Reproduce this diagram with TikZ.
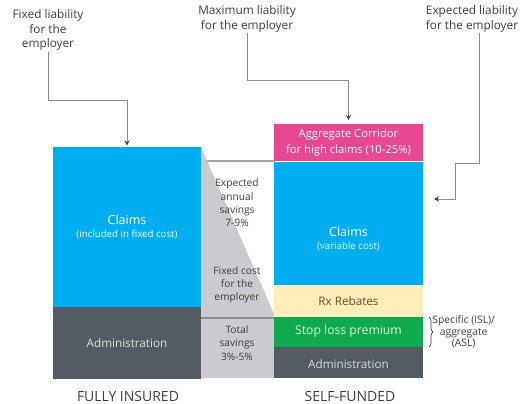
\documentclass[tikz,border=0pt]{standalone}
\usepackage{fontspec}
\setmainfont{Open Sans}
\usetikzlibrary{arrows.meta}
\usetikzlibrary{decorations.pathreplacing}
\usetikzlibrary{patterns}
\definecolor{claimblue}{RGB}{0,173,239}
\definecolor{corridorpink}{RGB}{232,71,146}
\definecolor{adminslate}{RGB}{84,91,99}
\definecolor{stopgreen}{RGB}{16,170,78}
\definecolor{rebateyellow}{RGB}{252,238,184}
\definecolor{savinggray}{RGB}{201,203,206}
\definecolor{linegray}{RGB}{140,140,140}
\definecolor{labeltext}{RGB}{62,62,62}

\tikzset{
  box/.style={inner sep=0pt, outer sep=0pt},
  boxtxt/.style={inner sep=0pt, text=white, font=\fontsize{11.7}{14}\selectfont},
  subtxt/.style={inner sep=0pt, text=white, font=\fontsize{9.7}{12}\selectfont},
  toptxt/.style={inner sep=1pt, align=center, text=labeltext, font=\fontsize{11.8}{14.5}\selectfont},
  midtxt/.style={inner sep=0pt, align=center, text=labeltext, font=\fontsize{10.2}{13.3}\selectfont},
  conn/.style={draw=linegray, line width=0.9pt, -{Stealth[length=5pt,width=5pt,color=black!75]}},
}

\begin{document}
\begin{tikzpicture}[x=1pt, y=-1pt]
\useasboundingbox (0,0) rectangle (523,404);
% fully insured
\node[box, fill=claimblue, minimum width=148, minimum height=160] (ficlaims) at (127,227) {};
\node[box, fill=adminslate, minimum width=148, minimum height=72] (fiadmin) at (127,343) {};
\node[boxtxt, font=\fontsize{12.5}{14}\selectfont] (ficlaimslab) at (127,220) {Claims};
\node[subtxt] (ficlaimssub) at (127,235) {(included in fixed cost)};
\node[boxtxt, text=white!88!black] (fiadminlab) at (127,343) {Administration};
% savings
\fill[savinggray] (201,147) -- (274,314) -- (274,318) -- (201,318) -- cycle;
\node[box, fill=savinggray, minimum width=73, minimum height=60] (savings) at (237.5,348) {};
% self-funded
\node[box, fill=corridorpink, minimum width=149, minimum height=37] (corridor) at (348.5,142.5) {};
\node[box, fill=claimblue, minimum width=149, minimum height=123] (sfclaims) at (348.5,223.5) {};
\node[box, fill=rebateyellow, minimum width=149, minimum height=32] (sfrebate) at (348.5,301) {};
\fill[pattern=dots, pattern color=orange!25] (sfrebate.north west) rectangle (sfrebate.south east);
\node[box, fill=stopgreen, minimum width=149, minimum height=30] (sfstop) at (348.5,332) {};
\node[box, fill=adminslate, minimum width=149, minimum height=31] (sfadmin) at (348.5,362.5) {};
\draw[linegray!80, line width=1.5pt] (207,161) -- (corridor.south west);
\draw[black!45, line width=1.8pt] (savings.north west) -- (savings.north east);
\node[boxtxt, font=\fontsize{11.2}{16}\selectfont, align=center] (corridorlab) at (348.5,143) {Aggregate Corridor\\for high claims (10-25\%)};
\node[boxtxt, font=\fontsize{12.5}{14}\selectfont] (sfclaimslab) at (348.5,232) {Claims};
\node[subtxt, text=white!90!claimblue] (sfclaimssub) at (348.5,247) {(variable cost)};
\node[boxtxt, text=brown!60!black] (sfrebatelab) at (348.5,301) {Rx Rebates};
\node[boxtxt, font=\fontsize{12.2}{14}\selectfont, text=green!18!white] (sfstoplab) at (348.5,331) {Stop loss premium};
\node[boxtxt, text=white!85!black] (sfadminlab) at (348.5,364) {Administration};
% middle texts
\node[midtxt] (annualsav) at (237,203) {Expected\\annual\\savings\\7-9\%};
\node[midtxt] (fixedcost) at (237,285) {Fixed cost\\for the\\employer};
\node[midtxt] (totalsav) at (237,343) {Total\\savings\\3\%-5\%};
% labels on top
\node[toptxt] (fixedlab) at (48,30) {Fixed liability\\for the\\employer};
\node[toptxt] (maxlab) at (247,19) {Maximum liability\\for the employer};
\node[toptxt] (explab) at (472,19) {Expected liability\\for the employer};
\coordinate (fixbend) at (127,100);
\coordinate (maxbend) at (348.5,80);
\coordinate (expbend1) at (479,163);
\coordinate (expbend2) at (455,199);
\coordinate (exptip) at (434,199);
\draw[conn, shorten >=1.5pt] (fixedlab.south) |- (fixbend) -- (ficlaims.north);
\draw[conn, shorten >=4pt] (maxlab.south) |- (maxbend) -- (corridor.north);
\draw[conn] (explab.south -| expbend1) -- (expbend1) -| (expbend2) -- (exptip);
% brace
\draw[decorate, decoration={brace, amplitude=4pt}, labeltext, line width=0.7pt] ([xshift=6pt]sfstop.north east) -- ([xshift=6pt]sfstop.south east) node[midway, right=3pt, midtxt, font=\fontsize{10.3}{11.8}\selectfont] (isllab) {Specific (ISL)/\\aggregate\\(ASL)};
% bottom
\node[toptxt, font=\fontsize{14}{16}\selectfont] (fullylab) at (128,396) {FULLY INSURED};
\node[toptxt, font=\fontsize{14}{16}\selectfont] (selflab) at (350,396) {SELF-FUNDED};
\end{tikzpicture}
\end{document}
